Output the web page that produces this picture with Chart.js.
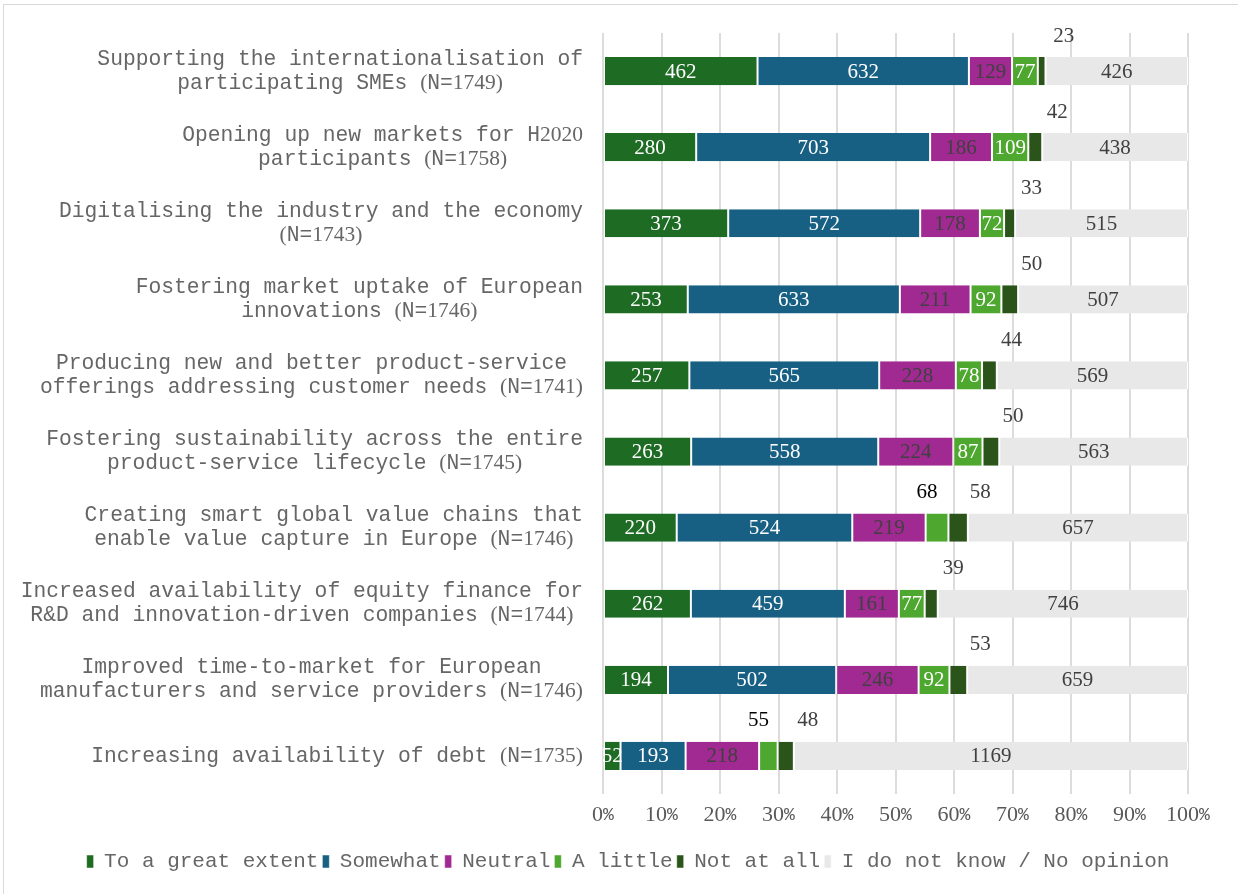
<!DOCTYPE html>
<html>
<head>
<meta charset="utf-8">
<script src="https://cdn.jsdelivr.net/npm/chart.js@4"></script>
<style>
  html, body { margin: 0; padding: 0; background: #fff; overflow: hidden; }
  #frame { position: absolute; left: 3px; top: 4px; width: 1240px; height: 900px; border: 1px solid #d9d9d9; pointer-events: none; }
  canvas { position: absolute; left: 0; top: 0; }
</style>
</head>
<body>
<canvas id="chart" width="1238" height="894"></canvas>
<div id="frame"></div>
<script>
const categories = [
  ['Supporting the internationalisation of', 'participating SMEs (N=1749)'],
  ['Opening up new markets for H2020', 'participants (N=1758)'],
  ['Digitalising the industry and the economy', '(N=1743)'],
  ['Fostering market uptake of European', 'innovations (N=1746)'],
  ['Producing new and better product-service', 'offerings addressing customer needs (N=1741)'],
  ['Fostering sustainability across the entire', 'product-service lifecycle (N=1745)'],
  ['Creating smart global value chains that', 'enable value capture in Europe (N=1746)'],
  ['Increased availability of equity finance for', 'R&D and innovation-driven companies (N=1744)'],
  ['Improved time-to-market for European', 'manufacturers and service providers (N=1746)'],
  ['Increasing availability of debt (N=1735)']
];

const seriesNames = ['To a great extent', 'Somewhat', 'Neutral', 'A little', 'Not at all', 'I do not know / No opinion'];

const greatExtent = [462, 280, 373, 253, 257, 263, 220, 262, 194, 52];
const somewhat    = [632, 703, 572, 633, 565, 558, 524, 459, 502, 193];
const neutral     = [129, 186, 178, 211, 228, 224, 219, 161, 246, 218];
const aLittle     = [77, 109, 72, 92, 78, 87, 68, 77, 92, 55];
const notAtAll    = [23, 42, 33, 50, 44, 50, 58, 39, 53, 48];
const noOpinion   = [426, 438, 515, 507, 569, 563, 657, 746, 659, 1169];

const xTicks = [0, 10, 20, 30, 40, 50, 60, 70, 80, 90, 100];

const series = [greatExtent, somewhat, neutral, aLittle, notAtAll, noOpinion];
const colors = ['#1e6b24', '#186083', '#a02a91', '#4ea72e', '#2a5419', '#e8e8e8'];
const insideText = ['#ffffff', '#ffffff', '#404040', '#ffffff', '#ffffff', '#404040'];

// totals per category, used to turn counts into shares
const totals = categories.map((c, i) => series.reduce((s, arr) => s + arr[i], 0));

const MONO = '"Liberation Mono", "Courier New", monospace';
const SERIF = '"Liberation Serif", "Times New Roman", serif';
const LABEL_GREY = '#666666';

// digits and brackets are set in the serif face, the rest in mono (as in the original)
function runs(str) {
  const out = [];
  for (const ch of str) {
    const serif = /[0-9()]/.test(ch);
    if (out.length && out[out.length - 1].serif === serif) out[out.length - 1].t += ch;
    else out.push({ t: ch, serif: serif });
  }
  return out;
}
function measureMixed(ctx, str, serifSize, monoSize) {
  let w = 0;
  runs(str).forEach(r => {
    ctx.font = r.serif ? serifSize + 'px ' + SERIF : monoSize + 'px ' + MONO;
    w += ctx.measureText(r.t).width;
  });
  return w;
}
function drawMixed(ctx, str, x, y, serifSize, monoSize) {
  runs(str).forEach(r => {
    ctx.font = r.serif ? serifSize + 'px ' + SERIF : monoSize + 'px ' + MONO;
    ctx.fillText(r.t, x, y);
    x += ctx.measureText(r.t).width;
  });
}

const textPlugin = {
  id: 'textPlugin',
  afterDatasetsDraw(chart) {
    const ctx = chart.ctx;
    const area = chart.chartArea;
    ctx.save();
    ctx.textAlign = 'center';
    ctx.textBaseline = 'middle';
    ctx.font = '21px ' + SERIF;
    series.forEach((arr, d) => {
      const meta = chart.getDatasetMeta(d);
      meta.data.forEach((el, i) => {
        const txt = String(arr[i]);
        const w = Math.abs(el.x - el.base);
        const cx = (el.x + el.base) / 2;
        const tw = ctx.measureText(txt).width;
        if (d === 0 || w >= tw + 2.5) {
          ctx.save();
          ctx.beginPath();
          ctx.rect(area.left, area.top, area.right - area.left, area.bottom - area.top);
          ctx.clip();
          ctx.fillStyle = insideText[d];
          ctx.fillText(txt, cx, el.y + 1);
          ctx.restore();
        } else {
          ctx.fillStyle = d === 4 ? '#404040' : '#000000';
          ctx.fillText(txt, cx + (d === 4 ? 22 : -10), el.y - 35);
        }
      });
    });
    ctx.restore();
  },
  afterDraw(chart) {
    const ctx = chart.ctx;
    const yScale = chart.scales.y;
    const xScale = chart.scales.x;
    ctx.save();
    ctx.fillStyle = LABEL_GREY;
    ctx.textAlign = 'left';
    ctx.textBaseline = 'middle';
    const right = xScale.left - 20;
    categories.forEach((lines, i) => {
      const yc = yScale.getPixelForValue(i);
      const widths = lines.map(l => measureMixed(ctx, l, 21.5, 21.3));
      const blockW = Math.max.apply(null, widths);
      const mid = right - blockW / 2;
      lines.forEach((l, k) => {
        const ly = yc + (k - (lines.length - 1) / 2) * 24;
        drawMixed(ctx, l, mid - widths[k] / 2, ly, 21.5, 21.3);
      });
    });
    ctx.fillStyle = '#595959';
    xTicks.forEach(v => {
      const px = xScale.getPixelForValue(v);
      const s = v + '%';
      const w = measureMixed(ctx, s, 22, 18);
      drawMixed(ctx, s, px - w / 2, chart.chartArea.bottom + 21, 22, 18);
    });
    ctx.restore();
  }
};

new Chart(document.getElementById('chart'), {
  type: 'bar',
  data: {
    labels: categories,
    datasets: series.map((arr, d) => ({
      label: seriesNames[d],
      data: arr.map((v, i) => v / totals[i] * 100),
      backgroundColor: colors[d],
      borderColor: '#ffffff',
      borderWidth: { left: 1, right: 1, top: 0, bottom: 0 },
      borderSkipped: false,
      barPercentage: 0.37,
      categoryPercentage: 1
    }))
  },
  options: {
    indexAxis: 'y',
    responsive: false,
    animation: false,
    devicePixelRatio: 1,
    layout: { padding: { top: 33, left: 18, right: 0, bottom: 12 } },
    scales: {
      x: {
        stacked: true,
        min: 0,
        max: 100,
        ticks: { stepSize: 10, color: 'transparent', font: { size: 21, family: SERIF } },
        grid: { color: '#dcdcdc', lineWidth: 2, drawTicks: false },
        border: { display: false },
        afterFit(s) { s.height = 53; }
      },
      y: {
        stacked: true,
        ticks: { display: false },
        grid: { display: false },
        border: { display: false },
        afterFit(s) { s.width = 585; }
      },
      yRight: {
        type: 'category',
        axis: 'y',
        position: 'right',
        ticks: { display: false },
        grid: { display: false },
        border: { display: false },
        afterFit(s) { s.width = 50; }
      }
    },
    plugins: {
      legend: {
        position: 'bottom',
        labels: {
          boxWidth: 7,
          boxHeight: 13,
          padding: 4,
          color: LABEL_GREY,
          font: { size: 21, family: MONO }
        }
      },
      tooltip: { enabled: false }
    }
  },
  plugins: [textPlugin]
});
</script>
</body>
</html>
